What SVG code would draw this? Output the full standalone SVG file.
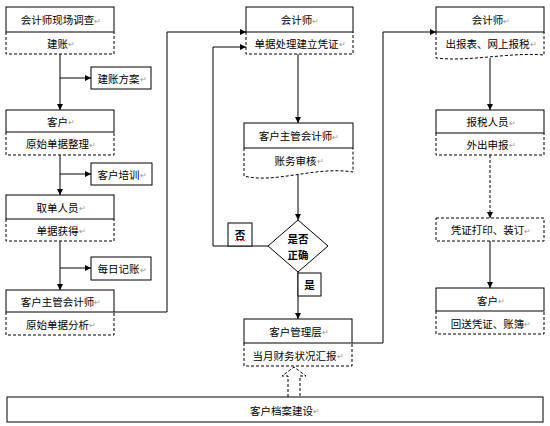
<svg xmlns="http://www.w3.org/2000/svg" width="550" height="426" viewBox="0 0 550 426">
<defs>
<marker id="ah" viewBox="0 0 8 8" refX="8" refY="4" markerWidth="6" markerHeight="6" markerUnits="userSpaceOnUse" orient="auto">
<path d="M0,0 L8,4 L0,8 Z" fill="#000"/>
</marker>
<style>
.s{fill:#fff;stroke:#000;stroke-width:1}
.d{fill:none;stroke:#000;stroke-width:1;stroke-dasharray:3,2}
.ln{fill:none;stroke:#000;stroke-width:1}
.ar{fill:none;stroke:#000;stroke-width:1;marker-end:url(#ah)}
.ard{fill:none;stroke:#000;stroke-width:1;stroke-dasharray:3,2;marker-end:url(#ah)}
text{font-family:"Noto Sans CJK SC","Liberation Sans",sans-serif;font-size:10.5px;fill:#000;text-anchor:middle;dominant-baseline:central}
.b{font-weight:bold}
.m{fill:#999;font-size:8px;font-weight:normal}
</style>
</defs>
<rect width="550" height="426" fill="#fff"/>

<g id="connectors">
<line class="ar" x1="60" y1="54" x2="60" y2="110"/>
<line class="ar" x1="60" y1="78" x2="91" y2="78"/>
<line class="ar" x1="60" y1="155" x2="60" y2="195"/>
<line class="ar" x1="60" y1="174" x2="91" y2="174"/>
<line class="ar" x1="60" y1="241" x2="60" y2="290"/>
<line class="ar" x1="60" y1="268" x2="91" y2="268"/>
<polyline class="ar" points="114,312 167,312 167,32 246,32"/>
<polyline class="ar" points="268,246 213,246 213,47 246,47"/>
<line class="ar" x1="298" y1="54" x2="298" y2="123"/>
<line class="ar" x1="298" y1="175" x2="298" y2="220"/>
<line class="ar" x1="298" y1="272" x2="298" y2="319"/>
<polyline class="ar" points="352,343 383,343 383,32 436,32"/>
<line class="ar" x1="490" y1="58" x2="490" y2="110"/>
<line class="ard" x1="490" y1="155" x2="490" y2="218"/>
<line class="ar" x1="490" y1="241" x2="490" y2="288"/>
<path class="d" d="M288,397 V376 H282 L294,367 L306,376 H300 V397"/>
</g>

<g id="n1">
<rect class="s" x="6" y="7" width="108" height="25"/>
<path class="d" d="M6,32 V54 H114 V32"/>
<text x="61" y="19.5">会计师现场调查<tspan class="m">↵</tspan></text>
<text x="61" y="43">建账<tspan class="m">↵</tspan></text>
</g>
<g id="n2">
<rect class="s" x="91" y="67" width="60" height="22"/>
<text x="122" y="78">建账方案<tspan class="m">↵</tspan></text>
</g>
<g id="n3">
<rect class="s" x="6" y="110" width="108" height="22"/>
<path class="d" d="M6,132 V155 H114 V132"/>
<text x="61" y="121">客户<tspan class="m">↵</tspan></text>
<text x="61" y="143.5">原始单据整理<tspan class="m">↵</tspan></text>
</g>
<g id="n4">
<rect class="s" x="91" y="163" width="61" height="22"/>
<text x="122" y="174">客户培训<tspan class="m">↵</tspan></text>
</g>
<g id="n5">
<rect class="s" x="6" y="195" width="108" height="24"/>
<path class="d" d="M6,219 V241 H114 V219"/>
<text x="61" y="207">取单人员<tspan class="m">↵</tspan></text>
<text x="61" y="230">单据获得<tspan class="m">↵</tspan></text>
</g>
<g id="n6">
<rect class="s" x="91" y="257" width="60" height="23"/>
<text x="122" y="268.5">每日记账<tspan class="m">↵</tspan></text>
</g>
<g id="n7">
<rect class="s" x="6" y="290" width="108" height="22"/>
<path class="d" d="M6,312 V335 H114 V312"/>
<text x="61" y="301">客户主管会计师<tspan class="m">↵</tspan></text>
<text x="61" y="324">原始单据分析<tspan class="m">↵</tspan></text>
</g>

<g id="n8">
<rect class="s" x="246" y="7" width="107" height="25"/>
<path class="d" d="M246,32 V54 H353 V32"/>
<text x="300" y="19.5">会计师<tspan class="m">↵</tspan></text>
<text x="300" y="43">单据处理建立凭证<tspan class="m">↵</tspan></text>
</g>
<g id="n9">
<rect class="s" x="244" y="123" width="109" height="25"/>
<path class="d" d="M244,148 V176 C275,184 315,166 353,172 V148"/>
<text x="299" y="135.5">客户主管会计师<tspan class="m">↵</tspan></text>
<text x="299" y="160">账务审核<tspan class="m">↵</tspan></text>
</g>
<g id="n10">
<polygon class="s" points="298,220 328,246 298,272 268,246"/>
<text class="b" x="298" y="238">是否</text>
<text class="b" x="298" y="254">正确</text>
</g>
<g id="n11">
<rect class="s" x="228" y="223" width="24" height="23"/>
<text class="b" x="240" y="234">否</text>
<path d="M235,241 l1.5,-1.5 l1.5,1.5 l1.5,-1.5 l1.5,1.5 l1.5,-1.5 l1.5,1.5 l1.5,-1.5" fill="none" stroke="#e02020" stroke-width="0.8"/>
</g>
<g id="n12">
<rect class="s" x="298" y="273" width="23" height="23"/>
<text class="b" x="309.5" y="284.5">是</text>
</g>
<g id="n13">
<rect class="s" x="244" y="319" width="108" height="24"/>
<path class="d" d="M244,343 V366 H352 V343"/>
<text x="299" y="331">客户管理层<tspan class="m">↵</tspan></text>
<text x="298" y="355">当月财务状况汇报<tspan class="m">↵</tspan></text>
</g>

<g id="n14">
<rect class="s" x="436" y="7" width="108" height="25"/>
<path class="d" d="M436,32 V58 C470,62 510,52 544,55 V32"/>
<text x="491" y="19.5">会计师<tspan class="m">↵</tspan></text>
<text x="491" y="43">出报表、网上报税<tspan class="m">↵</tspan></text>
</g>
<g id="n15">
<rect class="s" x="436" y="110" width="108" height="23"/>
<path class="d" d="M436,133 V155 H544 V133"/>
<text x="491" y="121.5">报税人员<tspan class="m">↵</tspan></text>
<text x="491" y="144">外出申报<tspan class="m">↵</tspan></text>
</g>
<g id="n16">
<rect class="d" x="436" y="218" width="108" height="23"/>
<text x="491" y="229.5">凭证打印、装订<tspan class="m">↵</tspan></text>
</g>
<g id="n17">
<rect class="s" x="436" y="288" width="108" height="23"/>
<path class="d" d="M436,311 V334 H544 V311"/>
<text x="491" y="300">客户<tspan class="m">↵</tspan></text>
<text x="491" y="323">回送凭证、账簿<tspan class="m">↵</tspan></text>
</g>

<g id="n18">
<rect class="s" x="7" y="397" width="536" height="25"/>
<text x="285" y="410">客户档案建设<tspan class="m">↵</tspan></text>
</g>
</svg>
